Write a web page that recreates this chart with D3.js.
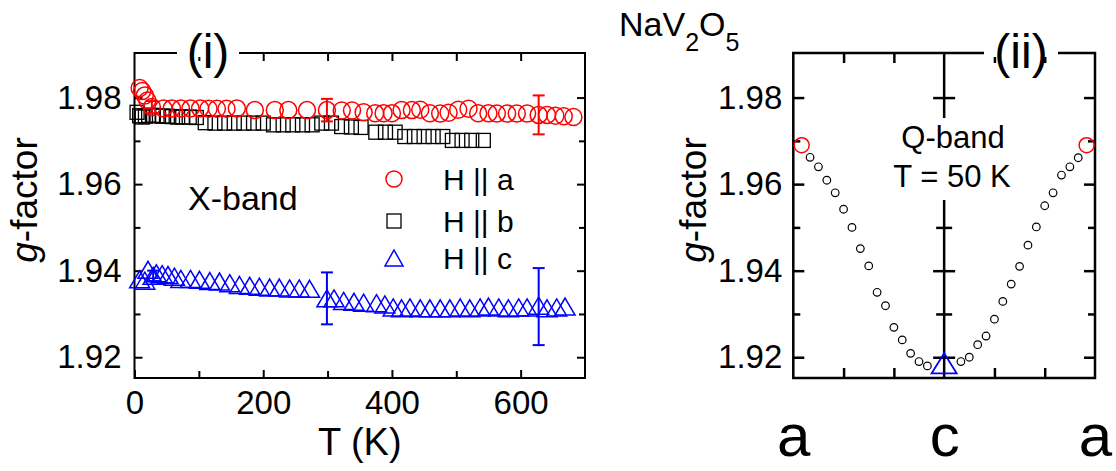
<!DOCTYPE html>
<html>
<head>
<meta charset="utf-8">
<script src="https://cdn.jsdelivr.net/npm/d3@7"></script>
<style>
  body { margin: 0; background: #fff; }
  svg { font-family: "Liberation Sans", Arial, sans-serif; }
</style>
</head>
<body>
<svg id="chart" width="1116" height="471"></svg>
<script>
// ---- data ----
// (i) X-band, g-factor vs temperature
const tempA = [8, 12, 16, 20, 27, 45, 58, 72, 87, 102, 115, 128, 143, 159, 187, 218, 239, 268, 299, 322, 338, 356,
  374, 387, 400, 415, 431, 444, 459, 475, 488, 503, 519, 534, 550, 563, 579, 594, 610, 628, 641, 654, 667, 682];
const gA = [1.9822, 1.9815, 1.9805, 1.9793, 1.9778, 1.9775, 1.9775, 1.9775, 1.9775, 1.9775, 1.9774, 1.9774, 1.9774, 1.9775,
  1.9771, 1.9771, 1.9771, 1.9771, 1.9771, 1.9770, 1.9770, 1.9766, 1.9764, 1.9764, 1.9764, 1.9771, 1.9771, 1.9772,
  1.9764, 1.9763, 1.9765, 1.9772, 1.9774, 1.9764, 1.9764, 1.9763, 1.9763, 1.9763, 1.9763, 1.9760, 1.9760, 1.9758,
  1.9757, 1.9755];

const tempB = [4, 8, 12, 17, 22, 28, 35, 43, 51, 59, 67, 75, 85, 96, 110, 125, 140, 155, 170, 185, 200, 216, 231, 246,
  261, 276, 291, 306, 322, 337, 352, 375, 390, 405, 420, 435, 450, 464, 479, 494, 509, 524, 542];
const gB = [1.9766, 1.9758, 1.9755, 1.9757, 1.9759, 1.9759, 1.9758, 1.9757, 1.9757, 1.9756, 1.9755, 1.9755, 1.9755,
  1.9754, 1.9742, 1.9741, 1.9741, 1.9741, 1.9741, 1.9741, 1.9741, 1.9737, 1.9737, 1.9737, 1.9737, 1.9737, 1.9741,
  1.9741, 1.9733, 1.9732, 1.9731, 1.9720, 1.9720, 1.9720, 1.9710, 1.9710, 1.9710, 1.9710, 1.9710, 1.9701, 1.9701,
  1.9701, 1.9701];

const tempC = [8, 16, 21, 29, 34, 43, 52, 62, 72, 87, 101, 117, 132, 148, 163, 179, 194, 210, 225, 241, 256, 272, 299,
  310, 325, 341, 356, 376, 389, 402, 415, 428, 444, 459, 475, 490, 506, 521, 537, 550, 566, 581, 597, 610, 628, 641,
  656, 669];
const gC = [1.9380, 1.9377, 1.9402, 1.9388, 1.9394, 1.9392, 1.9390, 1.9386, 1.9381, 1.9381, 1.9379, 1.9376, 1.9375,
  1.9371, 1.9367, 1.9365, 1.9363, 1.9361, 1.9361, 1.9359, 1.9359, 1.9358, 1.9336, 1.9336, 1.9330, 1.9328, 1.9326,
  1.9325, 1.9322, 1.9315, 1.9313, 1.9315, 1.9313, 1.9313, 1.9313, 1.9313, 1.9315, 1.9313, 1.9315, 1.9317, 1.9315,
  1.9313, 1.9315, 1.9315, 1.9319, 1.9313, 1.9315, 1.9317];

// error bars: [T, g, half-width]
const errA = [[27, 1.9778, 0.0014], [299, 1.9771, 0.0026], [628, 1.9760, 0.0045]];
const errC = [[29, 1.9388, 0.0012], [299, 1.9336, 0.0060], [628, 1.9317, 0.0089]];

// (ii) Q-band, angular dependence at T = 50 K
const angleQ = [10, 15, 20, 25, 30, 35, 40, 45, 50, 55, 60, 65, 70, 75, 80, 100, 105, 110, 115, 120, 125, 130, 135,
  140, 145, 150, 155, 160, 165, 170];
const gQ = [1.9662, 1.9640, 1.9609, 1.9580, 1.9542, 1.9500, 1.9451, 1.9411, 1.9350, 1.9319, 1.9269, 1.9240, 1.9209,
  1.9190, 1.9180, 1.9190, 1.9200, 1.9229, 1.9249, 1.9288, 1.9329, 1.9369, 1.9410, 1.9459, 1.9501, 1.9550, 1.9580,
  1.9621, 1.9640, 1.9661];
const angleQa = [5, 175];
const gQa = [1.9690, 1.9690];
const angleQc = [90];
const gQc = [1.9186];

const gTicks = [1.92, 1.94, 1.96, 1.98];
const gMinor = [1.93, 1.95, 1.97];
const tTicks = [0, 200, 400, 600];
const tMinor = [100, 300, 500];
const tTop = [100, 200, 300, 400, 500, 600];
const angleTicks = [0, 90, 180];
const angleLabels = ["a", "c", "a"];
const angleMinor = [30, 60, 120, 150];
const legendNames = ["H || a", "H || b", "H || c"];

// ---- layout ----
const svg = d3.select("#chart");
const L = { x0: 134.5, x1: 585, y0: 53, y1: 378 };
const R = { x0: 793.3, x1: 1095, y0: 53, y1: 378 };

const yScale = d3.scaleLinear().domain([1.9152, 1.9903]).range([L.y1, L.y0]);
const xT = d3.scaleLinear().domain([0, 700]).range([L.x0, L.x1]);
const xAng = d3.scaleLinear().domain([0, 180]).range([R.x0, R.x1]);

const tickFont = 33;

function addAxis(axis, tx, ty, width) {
  const g = svg.append("g").attr("transform", `translate(${tx},${ty})`).call(axis);
  g.select(".domain").remove();
  g.selectAll(".tick line").attr("stroke", "#000").attr("stroke-width", width);
  g.selectAll(".tick text").attr("fill", "#000").attr("font-size", tickFont)
    .attr("font-family", "Liberation Sans, Arial, sans-serif");
  return g;
}

// ---- panel (i) frame and axes ----
svg.append("rect").attr("x", L.x0).attr("y", L.y0)
  .attr("width", L.x1 - L.x0).attr("height", L.y1 - L.y0)
  .attr("fill", "none").attr("stroke", "#000").attr("stroke-width", 2);

addAxis(d3.axisBottom(xT).tickValues(tTicks).tickSize(-8).tickPadding(13).tickFormat(d3.format("d")), 0, L.y1, 2);
addAxis(d3.axisBottom(xT).tickValues(tMinor).tickSize(-7).tickFormat(""), 0, L.y1, 2);
addAxis(d3.axisTop(xT).tickValues(tTop).tickSize(-8).tickFormat(""), 0, L.y0, 2);
addAxis(d3.axisLeft(yScale).tickValues(gTicks).tickSize(-8).tickPadding(13).tickFormat(d3.format(".2f")), L.x0, 0, 2);
addAxis(d3.axisLeft(yScale).tickValues(gMinor).tickSize(-6).tickFormat(""), L.x0, 0, 2);
addAxis(d3.axisRight(yScale).tickValues(gTicks).tickSize(-8).tickFormat(""), L.x1, 0, 2);
addAxis(d3.axisRight(yScale).tickValues(gMinor).tickSize(-6).tickFormat(""), L.x1, 0, 2);

// ---- panel (ii) frame and axes ----
svg.append("rect").attr("x", R.x0).attr("y", R.y0)
  .attr("width", R.x1 - R.x0).attr("height", R.y1 - R.y0)
  .attr("fill", "none").attr("stroke", "#000").attr("stroke-width", 2.5);
svg.append("line").attr("x1", xAng(90)).attr("x2", xAng(90)).attr("y1", R.y0).attr("y2", R.y1)
  .attr("stroke", "#000").attr("stroke-width", 2.5);

addAxis(d3.axisLeft(yScale).tickValues(gTicks).tickSize(-11).tickPadding(11).tickFormat(d3.format(".2f")), R.x0, 0, 2.5);
addAxis(d3.axisLeft(yScale).tickValues(gMinor).tickSize(-7).tickFormat(""), R.x0, 0, 2.5);
addAxis(d3.axisRight(yScale).tickValues(gTicks).tickSize(-11).tickFormat(""), R.x1, 0, 2.5);
addAxis(d3.axisRight(yScale).tickValues(gMinor).tickSize(-7).tickFormat(""), R.x1, 0, 2.5);
// crossing ticks on the middle (c) axis
addAxis(d3.axisLeft(yScale).tickValues(gTicks).tickSize(11).tickFormat(""), xAng(90), 0, 2.5);
addAxis(d3.axisRight(yScale).tickValues(gTicks).tickSize(11).tickFormat(""), xAng(90), 0, 2.5);
addAxis(d3.axisLeft(yScale).tickValues(gMinor).tickSize(8).tickFormat(""), xAng(90), 0, 2.5);
addAxis(d3.axisRight(yScale).tickValues(gMinor).tickSize(8).tickFormat(""), xAng(90), 0, 2.5);
addAxis(d3.axisBottom(xAng).tickValues(angleMinor).tickSize(-10).tickFormat(""), 0, R.y1, 2.5);
addAxis(d3.axisTop(xAng).tickValues(angleMinor).tickSize(-10).tickFormat(""), 0, R.y0, 2.5);
const angAx = addAxis(d3.axisBottom(xAng).tickValues(angleTicks).tickSize(0).tickPadding(35)
  .tickFormat((d, i) => angleLabels[i]), 0, R.y1, 0);
angAx.selectAll(".tick text").attr("font-size", 60);

// ---- labels ----
function yLabel(x, y) {
  const t = svg.append("text").attr("transform", `translate(${x},${y}) rotate(-90)`)
    .attr("text-anchor", "middle").attr("font-size", 37);
  t.append("tspan").attr("font-style", "italic").text("g");
  t.append("tspan").text("-factor");
}
yLabel(37, 200);
yLabel(706, 200);

svg.append("text").attr("x", (L.x0 + L.x1) / 2).attr("y", 455).attr("text-anchor", "middle")
  .attr("font-size", 38).text("T (K)");

// panel tags sitting on the top frame
function tag(cx, w, label) {
  svg.append("rect").attr("x", cx - w / 2).attr("y", L.y0 - 4).attr("width", w).attr("height", 8).attr("fill", "#fff");
  svg.append("text").attr("x", cx).attr("y", 68).attr("text-anchor", "middle").attr("font-size", 48).text(label);
}
tag(208, 62, "(i)");
tag(1021, 74, "(ii)");

const title = svg.append("text").attr("x", 619).attr("y", 36).attr("font-size", 34);
title.append("tspan").text("NaV");
title.append("tspan").attr("font-size", 25).attr("dy", 15).text("2");
title.append("tspan").attr("dy", -15).text("O");
title.append("tspan").attr("font-size", 25).attr("dy", 15).text("5");

svg.append("text").attr("x", 188).attr("y", 210).attr("font-size", 34).text("X-band");

svg.append("rect").attr("x", 896).attr("y", 118).attr("width", 116).attr("height", 82).attr("fill", "#fff");
svg.append("text").attr("x", 953).attr("y", 148).attr("text-anchor", "middle").attr("font-size", 31).text("Q-band");
svg.append("text").attr("x", 952).attr("y", 187).attr("text-anchor", "middle").attr("font-size", 31).text("T = 50 K");

// ---- markers ----
const RED = "#ff0000", BLUE = "#0000ff";
const triPath = (w, h) => `M0,${-h / 2}L${w / 2},${h / 2}L${-w / 2},${h / 2}Z`;

function errorBars(list, color) {
  const g = svg.append("g").attr("stroke", color).attr("stroke-width", 2);
  list.forEach(([t, v, e]) => {
    const x = xT(t), ya = yScale(v - e), yb = yScale(v + e);
    g.append("line").attr("x1", x).attr("x2", x).attr("y1", ya).attr("y2", yb);
    g.append("line").attr("x1", x - 6).attr("x2", x + 6).attr("y1", ya).attr("y2", ya);
    g.append("line").attr("x1", x - 6).attr("x2", x + 6).attr("y1", yb).attr("y2", yb);
  });
}

// H || b squares
svg.append("g").selectAll("rect").data(d3.zip(tempB, gB)).join("rect")
  .attr("x", d => xT(d[0]) - 7).attr("y", d => yScale(d[1]) - 7)
  .attr("width", 14).attr("height", 14)
  .attr("fill", "none").attr("stroke", "#000").attr("stroke-width", 1.3);

// H || c triangles
errorBars(errC, BLUE);
svg.append("g").selectAll("path").data(d3.zip(tempC, gC)).join("path")
  .attr("transform", d => `translate(${xT(d[0])},${yScale(d[1])})`)
  .attr("d", triPath(20, 17))
  .attr("fill", "none").attr("stroke", BLUE).attr("stroke-width", 1.5);

// H || a circles
errorBars(errA, RED);
svg.append("g").selectAll("circle").data(d3.zip(tempA, gA)).join("circle")
  .attr("cx", d => xT(d[0])).attr("cy", d => yScale(d[1])).attr("r", 8.5)
  .attr("fill", "none").attr("stroke", RED).attr("stroke-width", 1.5);

// legend
const legY = [179, 221, 258];
svg.append("circle").attr("cx", 394).attr("cy", legY[0]).attr("r", 8)
  .attr("fill", "none").attr("stroke", RED).attr("stroke-width", 1.5);
svg.append("rect").attr("x", 387).attr("y", legY[1] - 7).attr("width", 14).attr("height", 14)
  .attr("fill", "none").attr("stroke", "#000").attr("stroke-width", 1.3);
svg.append("path").attr("transform", `translate(394,${legY[2]})`).attr("d", triPath(18, 16))
  .attr("fill", "none").attr("stroke", BLUE).attr("stroke-width", 1.5);
legendNames.forEach((n, i) => {
  svg.append("text").attr("x", 443).attr("y", legY[i] + 11).attr("font-size", 30).text(n);
});

// panel (ii) points
svg.append("g").selectAll("circle").data(d3.zip(angleQ, gQ)).join("circle")
  .attr("cx", d => xAng(d[0])).attr("cy", d => yScale(d[1])).attr("r", 3.8)
  .attr("fill", "none").attr("stroke", "#000").attr("stroke-width", 1.2);
svg.append("g").selectAll("circle").data(d3.zip(angleQa, gQa)).join("circle")
  .attr("cx", d => xAng(d[0])).attr("cy", d => yScale(d[1])).attr("r", 7.5)
  .attr("fill", "none").attr("stroke", RED).attr("stroke-width", 1.5);
svg.append("g").selectAll("path").data(d3.zip(angleQc, gQc)).join("path")
  .attr("transform", d => `translate(${xAng(d[0])},${yScale(d[1])})`)
  .attr("d", triPath(25, 20))
  .attr("fill", "none").attr("stroke", BLUE).attr("stroke-width", 1.8);
</script>
</body>
</html>
